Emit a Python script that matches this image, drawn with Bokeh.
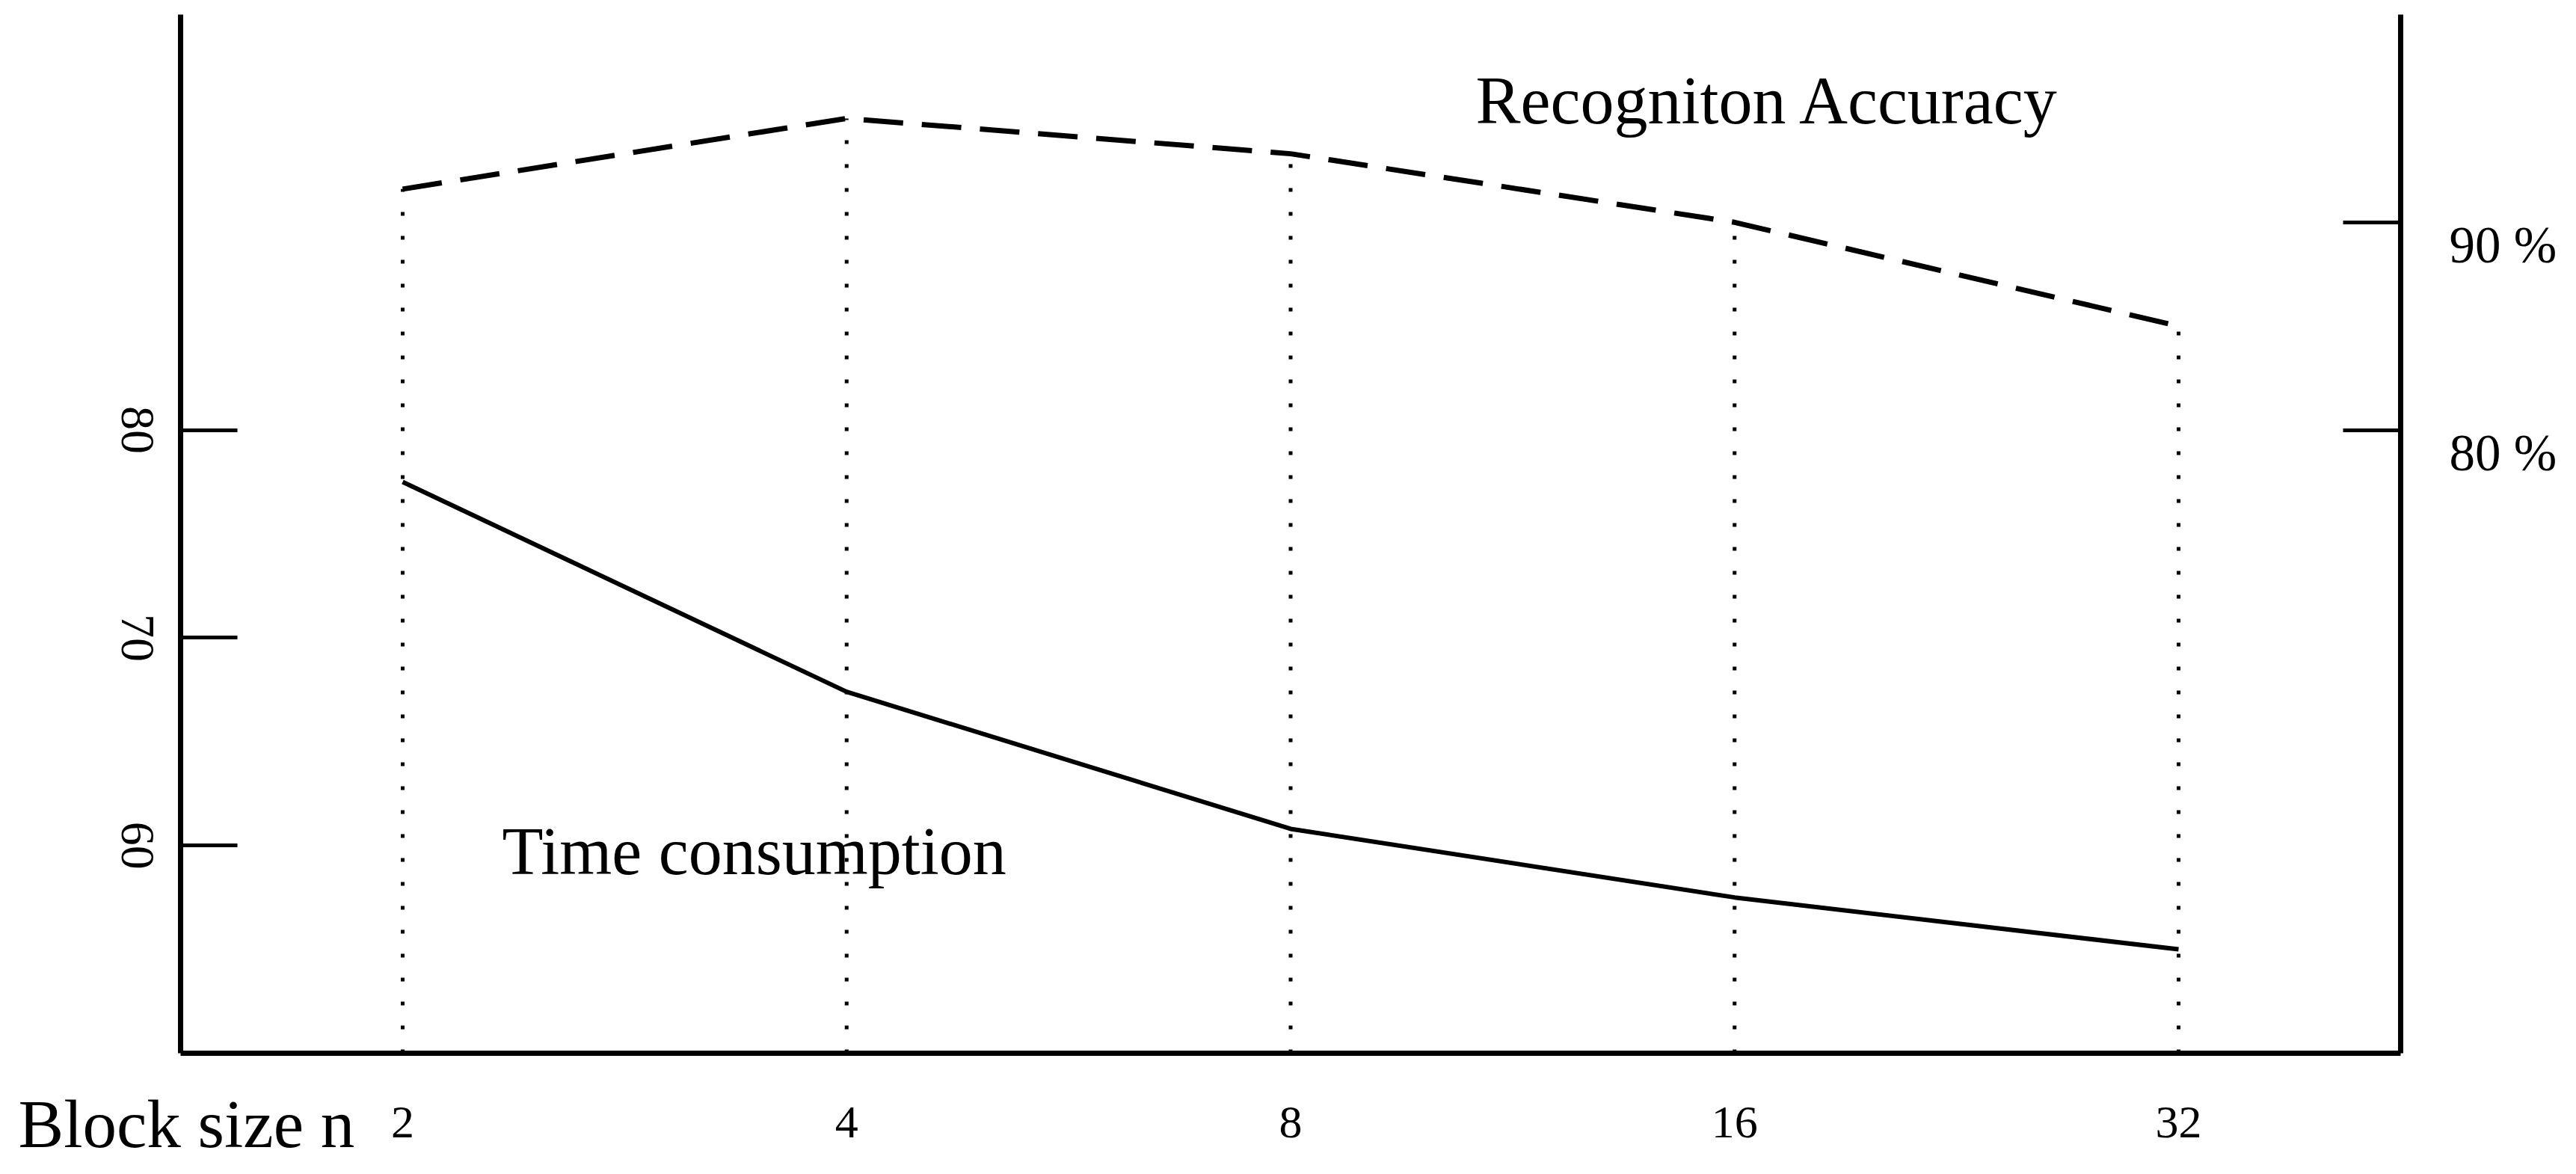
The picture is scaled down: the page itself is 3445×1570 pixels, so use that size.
import math
from bokeh.plotting import figure
from bokeh.models import Range1d, FixedTicker, LinearAxis, Label
from bokeh.embed import file_html
from bokeh.resources import INLINE
from bokeh.core.properties import value

# ---- data ----
block_sizes = ["2", "4", "8", "16", "32"]
time_consumption = [77.5, 67.4, 60.8, 57.5, 55.0]
recognition_accuracy = [91.6, 95.0, 93.3, 90.0, 85.0]
left_ticks = [60, 70, 80]
right_ticks = [80, 90]
right_tick_labels = ["80 %", "90 %"]
y_min, y_max = 50, 100

# ---- layout (page pixels) ----
FONT = "Liberation Serif"
W, H = 3440, 1565
PX_X0, PX_DX = 538.0, 593.75        # page x of first category, spacing
PX_YTOP, PX_PER_UNIT = 19.0, 27.78  # page y of y_max, pixels per unit


def xd(px):
    return (px - PX_X0) / PX_DX


def yd(py):
    return y_max - (py - PX_YTOP) / PX_PER_UNIT


x = list(range(len(block_sizes)))
x_lo, x_hi = -0.5, len(block_sizes) - 0.5

p = figure(frame_width=W, frame_height=H,
           x_range=Range1d(xd(0), xd(W)), y_range=Range1d(yd(H), yd(0)),
           output_backend="svg", toolbar_location=None,
           min_border=0)
p.title.visible = False
p.extra_y_ranges = {"acc": Range1d(yd(H), yd(0))}
p.outline_line_color = None
p.grid.visible = False

# left axis (labels drawn as rotated text below)
ya = p.yaxis[0]
ya.fixed_location = x_lo
ya.bounds = (y_min, y_max)
ya.ticker = FixedTicker(ticks=left_ticks)
ya.major_tick_in = 76
ya.major_tick_out = 0
ya.major_tick_line_width = 5
ya.minor_tick_line_color = None
ya.axis_line_width = 7
ya.major_label_text_font_size = "0px"
ya.major_label_text_color = None

# bottom axis
xa = p.xaxis[0]
xa.fixed_location = y_min
xa.bounds = (x_lo, x_hi)
xa.ticker = FixedTicker(ticks=x)
xa.major_label_overrides = {i: s for i, s in zip(x, block_sizes)}
xa.major_tick_in = 0
xa.major_tick_out = 0
xa.major_tick_line_color = None
xa.minor_tick_line_color = None
xa.axis_line_width = 7
xa.major_label_text_font = FONT
xa.major_label_text_font_size = "62px"
xa.major_label_standoff = 72
xa.major_label_text_color = "black"

# right axis
ra = LinearAxis(y_range_name="acc", ticker=FixedTicker(ticks=right_ticks))
ra.fixed_location = x_hi
ra.bounds = (y_min, y_max)
ra.major_tick_in = 77
ra.major_tick_out = 0
ra.major_tick_line_width = 5
ra.minor_tick_line_color = None
ra.axis_line_width = 7
ra.major_label_text_font_size = "0px"
ra.major_label_text_color = None
p.add_layout(ra, "right")

# tick labels
p.text(x=[xd(183)] * len(left_ticks), y=left_ticks,
       text=[str(t) for t in left_ticks], angle=-math.pi / 2,
       text_align="center", text_baseline="middle",
       text_font=value(FONT), text_font_size="64px", text_color="black")
p.text(x=[xd(3275)] * len(right_ticks),
       y=[t - 31 / PX_PER_UNIT for t in right_ticks],
       text=right_tick_labels, y_range_name="acc",
       text_align="left", text_baseline="middle",
       text_font=value(FONT), text_font_size="69px", text_color="black")

# dotted verticals
p.segment(x0=x, y0=[y_min] * len(x), x1=x, y1=recognition_accuracy,
          y_range_name="acc", line_color="black", line_width=5,
          line_dash="5 27")

# lines
p.line(x, time_consumption, line_color="black", line_width=6)
p.line(x, recognition_accuracy, y_range_name="acc", line_color="black",
       line_width=7, line_dash="53 25")

# text annotations (y is the middle of the text box)
p.add_layout(Label(x=xd(671), y=yd(1138), text="Time consumption",
                   text_font=FONT, text_font_size="90px",
                   text_baseline="middle", text_color="black"))
p.add_layout(Label(x=xd(1973), y=yd(134), text="Recogniton Accuracy",
                   text_font=FONT, text_font_size="90px",
                   text_baseline="middle", text_color="black"))
p.add_layout(Label(x=xd(24), y=yd(1503), text="Block size n",
                   text_font=FONT, text_font_size="91px",
                   text_baseline="middle", text_color="black"))

open("out.html", "w").write(file_html(p, INLINE))
